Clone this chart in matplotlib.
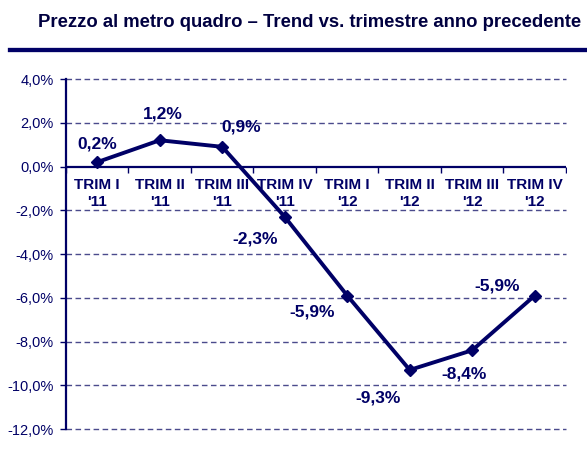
import numpy as np
import matplotlib.pyplot as plt
from matplotlib.ticker import FuncFormatter

plt.rcParams['font.family'] = ['Liberation Sans', 'DejaVu Sans']

# Dati
trimestri = ['TRIM I\n\'11', 'TRIM II\n\'11', 'TRIM III\n\'11', 'TRIM IV\n\'11',
             'TRIM I\n\'12', 'TRIM II\n\'12', 'TRIM III\n\'12', 'TRIM IV\n\'12']
valori = [0.2, 1.2, 0.9, -2.3, -5.9, -9.3, -8.4, -5.9]
# posizione etichette (offset in punti)
offset_etichette = [(0, 13), (2, 19), (14, 14), (-21, -16), (-25, -12), (-23, -20), (-6, -17), (-27, 7)]

navy = '#000066'
grid_col = '#4a4a8c'

fig = plt.figure(figsize=(5.87, 4.58), dpi=100)
ax = fig.add_axes([0.1124, 0.0633, 0.8518, 0.7642])

x = np.arange(len(valori))
ax.plot(x, valori, color=navy, lw=2.8, marker='D', markersize=6.5, zorder=3)

for xi, v, off in zip(x, valori, offset_etichette):
    testo = f'{v:.1f}%'.replace('.', ',')
    ax.annotate(testo, xy=(xi, v), xytext=off, textcoords='offset points',
                ha='center', va='center', fontsize=12.5, fontweight='bold', color=navy)

for xi, lab in zip(x, trimestri):
    ax.annotate(lab, xy=(xi, 0), xytext=(0, -8), textcoords='offset points',
                ha='center', va='top', fontsize=11, fontweight='bold', color=navy,
                linespacing=1.3)

ax.set_xlim(-0.5, len(valori) - 0.5)
ax.set_ylim(-12, 4)
ax.set_yticks(np.arange(-12, 5, 2))
ax.yaxis.set_major_formatter(FuncFormatter(lambda v, p: f'{v:.1f}%'.replace('.', ',')))
ax.tick_params(axis='y', labelsize=10.5, colors=navy, length=4, width=1, pad=5)
ax.tick_params(axis='x', bottom=False, labelbottom=False)

for yv in np.arange(-12, 5, 2):
    if yv != 0:
        ax.axhline(yv, color=grid_col, lw=1, ls=(0, (4, 2.5)), zorder=1, clip_on=False)
ax.axhline(0, color=navy, lw=1.6, zorder=2)
ax.plot(np.arange(len(valori) + 1) - 0.5, np.zeros(len(valori) + 1), ls='none',
        marker=3, markersize=4, color=navy, mew=1, zorder=2)

for s in ['top', 'right', 'bottom']:
    ax.spines[s].set_visible(False)
ax.spines['left'].set_color(navy)
ax.spines['left'].set_linewidth(1.6)

fig.text(0.527, 0.95, 'Prezzo al metro quadro – Trend vs. trimestre anno precedente',
         ha='center', va='center', fontsize=13.3, fontweight='bold', color='#000040')
fig.add_artist(plt.Line2D([0.017, 1.0], [0.891, 0.891], color=navy, lw=3.1))

fig.savefig('out.png', dpi=100)
